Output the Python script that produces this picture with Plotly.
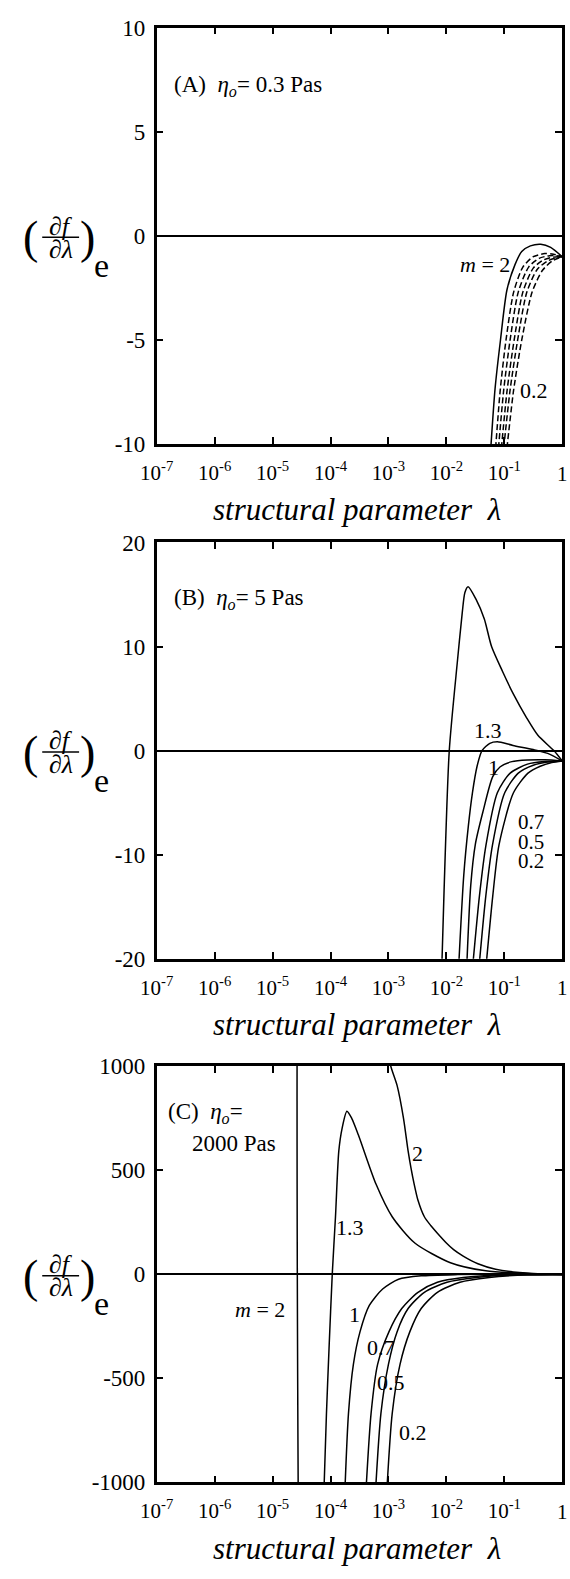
import plotly.graph_objects as go

W, H = 570, 1579

# ---------------- Panel A (eta_o = 0.3 Pas) ----------------
a_lam_2 = [0.0575, 0.0692, 0.0859, 0.111, 0.153, 0.200, 0.282, 0.427, 0.631, 1.0]
a_val_2 = [-10.5, -7.35, -5.0, -2.6, -1.38, -0.75, -0.48, -0.40, -0.55, -1.0]
a_lam_13 = [0.0708, 0.0851, 0.107, 0.145, 0.209, 0.316, 0.501, 0.708, 1.0]
a_val_13 = [-10.2, -7.4, -5.0, -2.7, -1.5, -1.0, -0.85, -0.88, -1.0]
a_lam_1 = [0.0794, 0.0977, 0.126, 0.174, 0.263, 0.398, 0.603, 0.794, 1.0]
a_val_1 = [-10.2, -7.4, -5.0, -2.7, -1.5, -1.08, -0.95, -0.95, -1.0]
a_lam_07 = [0.0891, 0.112, 0.148, 0.209, 0.316, 0.479, 0.708, 1.0]
a_val_07 = [-10.2, -7.4, -5.0, -2.7, -1.55, -1.15, -1.02, -1.0]
a_lam_05 = [0.0977, 0.126, 0.170, 0.245, 0.372, 0.562, 0.794, 1.0]
a_val_05 = [-10.2, -7.4, -5.0, -2.7, -1.6, -1.2, -1.05, -1.0]
a_lam_02 = [0.111, 0.145, 0.200, 0.302, 0.457, 0.676, 0.871, 1.0]
a_val_02 = [-10.2, -7.4, -5.0, -2.7, -1.65, -1.2, -1.06, -1.0]

# ---------------- Panel B (eta_o = 5 Pas) ----------------
b_lam_2 = [0.00832, 0.00912, 0.01122, 0.01549, 0.01884, 0.02089, 0.02371, 0.03273,
           0.04519, 0.06026, 0.09333, 0.1445, 0.2399, 0.3802, 0.7161, 1.0]
b_val_2 = [-21, -13.5, 0, 8.56, 13.3, 15.2, 15.74, 14.5, 12.65, 10, 7.6, 5.4, 3.2, 1.47, 0, -1]
b_lam_13 = [0.01622, 0.01995, 0.02399, 0.02818, 0.03388, 0.04121, 0.05623, 0.07586,
            0.1413, 0.3162, 0.5623, 1.0]
b_val_13 = [-21, -12, -7.2, -4.05, -1.5, 0, 0.7, 0.85, 0.5, 0.1, -0.27, -1]
b_lam_1 = [0.02239, 0.0263, 0.03162, 0.04266, 0.0631, 0.08511, 0.1349, 0.2512, 0.5012, 1.0]
b_val_1 = [-21, -13, -9, -5.9, -2.5, -1.55, -1.06, -0.9, -0.88, -1]
b_lam_07 = [0.02818, 0.03715, 0.04819, 0.07586, 0.1265, 0.2512, 0.5012, 1.0]
b_val_07 = [-21, -14, -9.1, -4.05, -2.16, -1.3, -1.05, -1]
b_lam_05 = [0.03631, 0.04786, 0.06237, 0.1016, 0.1742, 0.3162, 0.5623, 1.0]
b_val_05 = [-21, -14, -9.1, -4.05, -2.16, -1.4, -1.1, -1]
b_lam_02 = [0.04786, 0.0631, 0.08072, 0.1439, 0.2564, 0.4169, 0.6607, 1.0]
b_val_02 = [-21, -14, -9.1, -4.05, -2.16, -1.5, -1.15, -1]

# ---------------- Panel C (eta_o = 2000 Pas) ----------------
c_lam_2 = [3.09e-5, 3.09e-5, 3.162e-4, 9.55e-4, 1.096e-3, 1.413e-3, 1.820e-3, 2.188e-3,
           2.443e-3, 2.780e-3, 3.236e-3, 4.169e-3, 5.370e-3, 6.998e-3, 1.000e-2,
           1.334e-2, 1.950e-2, 3.500e-2, 7.079e-2, 0.3162, 1.0]
c_val_2 = [-3000, 3000, 8000, 1100, 1000, 906, 749, 591, 512, 433, 355, 276, 234, 197,
           150, 118, 87, 50, 24, 3, -1]
c_lam_13 = [7.586e-5, 8.511e-5, 9.441e-5, 1.072e-4, 1.219e-4, 1.390e-4, 1.585e-4, 1.919e-4,
            2.323e-4, 3.020e-4, 6.095e-4, 1.161e-3, 2.851e-3, 1.175e-2, 4.786e-2, 0.3162, 1.0]
c_val_13 = [-1100, -670, -355, 0, 276, 591, 701, 783, 749, 670, 433, 276, 150, 55, 16, 2, -1]
c_lam_1 = [1.738e-4, 2.042e-4, 2.483e-4, 3.236e-4, 4.677e-4, 7.943e-4, 1.496e-3, 3.673e-3,
           1.585e-2, 0.1, 1.0]
c_val_1 = [-1100, -670, -433, -276, -150, -71, -24, -8, -2, 0, -1]
c_lam_07 = [3.981e-4, 5.012e-4, 6.501e-4, 1.023e-3, 1.698e-3, 3.236e-3, 6.998e-3, 1.950e-2, 0.1, 1.0]
c_val_07 = [-1100, -670, -433, -276, -165, -87, -39, -16, -3, -1]
c_lam_05 = [5.821e-4, 7.413e-4, 1.0e-3, 1.413e-3, 2.188e-3, 4.169e-3, 1.023e-2, 3.273e-2, 0.1585, 1.0]
c_val_05 = [-1100, -670, -433, -276, -165, -87, -39, -16, -3, -1]
c_lam_02 = [9.120e-4, 1.161e-3, 1.585e-3, 2.344e-3, 3.673e-3, 6.998e-3, 1.718e-2, 5.495e-2, 0.2512, 1.0]
c_val_02 = [-1100, -670, -433, -276, -165, -87, -39, -16, -3, -1]

# ticks
x_tickvals = [1e-7, 1e-6, 1e-5, 1e-4, 1e-3, 1e-2, 1e-1]
x_ticktext = ["10<sup>-7</sup>", "10<sup>-6</sup>", "10<sup>-5</sup>", "10<sup>-4</sup>",
              "10<sup>-3</sup>", "10<sup>-2</sup>", "10<sup>-1</sup>"]
x_last_label = "1"
a_yticks = [-10, -5, 0, 5, 10]
b_yticks = [-20, -10, 0, 10, 20]
c_yticks = [-1000, -500, 0, 500, 1000]

FONT = "Liberation Serif, DejaVu Serif, Times New Roman, serif"


def px(x):
    return x / W


def py(y):
    return 1 - y / H


fig = go.Figure()


def add(lam, val, ax, dash="solid"):
    n = "" if ax == 1 else str(ax)
    fig.add_trace(go.Scatter(
        x=lam, y=val, mode="lines", xaxis="x" + n, yaxis="y" + n,
        line=dict(color="black", width=1.5, dash=dash, shape="spline", smoothing=0.7),
        showlegend=False, hoverinfo="skip"))


add(a_lam_2, a_val_2, 1)
for lam, val in [(a_lam_13, a_val_13), (a_lam_1, a_val_1), (a_lam_07, a_val_07),
                 (a_lam_05, a_val_05), (a_lam_02, a_val_02)]:
    add(lam, val, 1, dash="6px,3px")
for lam, val in [(b_lam_2, b_val_2), (b_lam_13, b_val_13), (b_lam_1, b_val_1),
                 (b_lam_07, b_val_07), (b_lam_05, b_val_05), (b_lam_02, b_val_02)]:
    add(lam, val, 2)
for lam, val in [(c_lam_2, c_val_2), (c_lam_13, c_val_13), (c_lam_1, c_val_1),
                 (c_lam_07, c_val_07), (c_lam_05, c_val_05), (c_lam_02, c_val_02)]:
    add(lam, val, 3)

panels = [(16, 439), (539, 962), (1071, 1494)]
yranges = [[-10, 10], [-20, 20], [-1000, 1000]]
yticks = [a_yticks, b_yticks, c_yticks]
xdom = [px(144), px(562)]

axis_common = dict(showline=True, linewidth=2.5, linecolor="black", mirror="allticks",
                   ticks="inside", ticklen=7, tickwidth=2, tickcolor="black",
                   showgrid=False, ticklabeloverflow="allow")
layout = {}
for i, ((top, bot), yr, yt) in enumerate(zip(panels, yranges, yticks)):
    n = "" if i == 0 else str(i + 1)
    layout["xaxis" + n] = dict(
        axis_common, type="log", range=[-7, 0], domain=xdom, anchor="y" + n,
        tickvals=x_tickvals, ticktext=x_ticktext, ticklabelstandoff=8,
        tickfont=dict(family=FONT, size=21, color="black"), zeroline=False)
    layout["yaxis" + n] = dict(
        axis_common, range=yr, domain=[py(bot), py(top)], anchor="x" + n,
        tickvals=yt, ticktext=[str(v) for v in yt], ticklabelstandoff=4,
        tickfont=dict(family=FONT, size=23, color="black"),
        zeroline=True, zerolinecolor="black", zerolinewidth=1.5)

annotations = []
shapes = []


def txt(text, x, y, size, xanchor="center"):
    annotations.append(dict(text=text, x=px(x), y=py(y), xref="paper", yref="paper",
                            xanchor=xanchor, yanchor="middle", showarrow=False,
                            font=dict(family=FONT, size=size, color="black")))


for i, (top, bot) in enumerate(panels):
    cy = (top + bot) / 2
    # y-axis title (df/dlambda)_e
    txt("(", 14, cy + 2, 46)
    txt(")", 73, cy + 2, 46)
    txt("<i>∂f</i>", 45, cy - 10, 26)
    txt("<i>∂λ</i>", 45, cy + 14, 26)
    txt("e", 87, cy + 30, 34)
    shapes.append(dict(type="line", xref="paper", yref="paper",
                       x0=px(26), x1=px(64), y0=py(cy + 1.5), y1=py(cy + 1.5),
                       line=dict(color="black", width=1.5)))
    # label of the last decade tick (lambda = 1)
    xa = "x" if i == 0 else "x" + str(i + 1)
    annotations.append(dict(text=x_last_label, x=0, xref=xa, y=py(bot + 30), yref="paper",
                            xanchor="center", yanchor="middle", showarrow=False,
                            font=dict(family=FONT, size=21, color="black")))
    # x-axis title
    txt("<i>structural parameter\u00a0\u00a0λ</i>", 350, bot + 67, 31)

# panel headings
txt("(A)\u00a0\u00a0<i>η<sub>o</sub></i>= 0.3 Pas", 160, 75, 23, xanchor="left")
txt("(B)\u00a0\u00a0<i>η<sub>o</sub></i>= 5 Pas", 160, 596, 23, xanchor="left")
txt("(C)\u00a0\u00a0<i>η<sub>o</sub></i>=", 154, 1119, 23, xanchor="left")
txt("2000 Pas", 178, 1150, 23, xanchor="left")

# curve labels
txt("<i>m</i> = 2", 482, 257, 22)
txt("0.2", 533, 385, 22)
txt("1.3", 485, 730, 22)
txt("1", 491, 768, 22)
txt("0.7", 530, 823, 21)
txt("0.5", 530, 843, 21)
txt("0.2", 530, 863, 21)
txt("<i>m</i> = 2", 250, 1318, 22)
txt("1.3", 343, 1235, 22)
txt("2", 413, 1160, 22)
txt("1", 348, 1323, 22)
txt("0.7", 375, 1357, 22)
txt("0.5", 386, 1393, 22)
txt("0.2", 408, 1443, 22)

fig.update_layout(width=W, height=H, autosize=False,
                  margin=dict(l=0, r=0, t=0, b=0),
                  paper_bgcolor="white", plot_bgcolor="white",
                  annotations=annotations, shapes=shapes, **layout)

fig.write_html("out.html",
               config={"displayModeBar": False},
               post_script="document.body.style.margin='0px';"
                           "document.documentElement.style.overflow='hidden';")
